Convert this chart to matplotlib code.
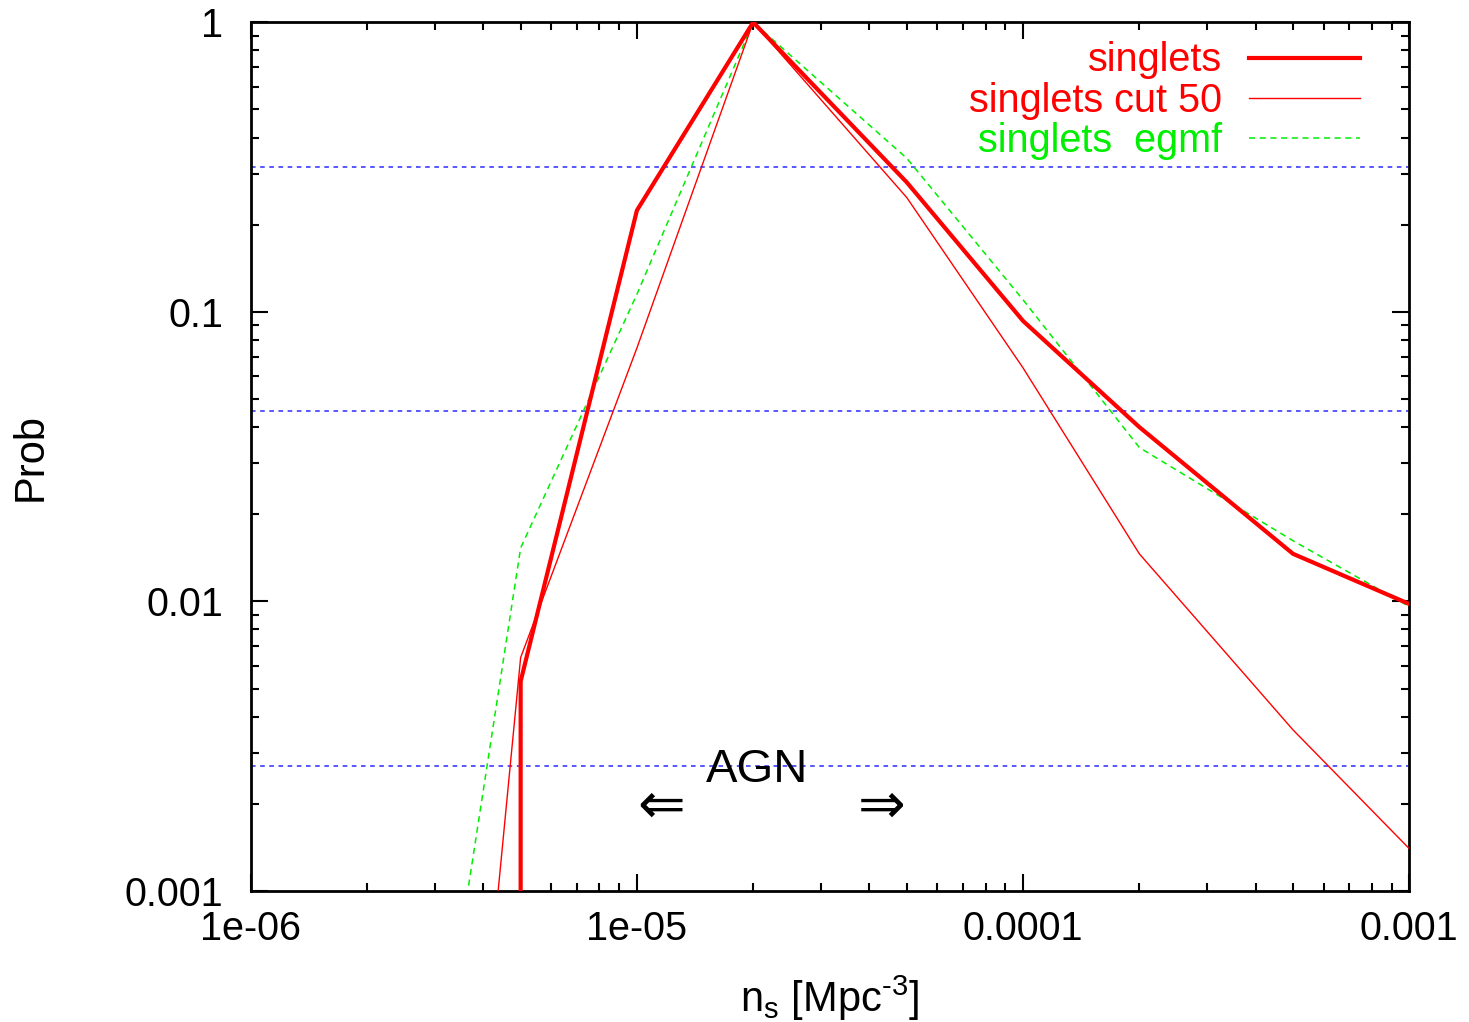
#!/usr/bin/env python
"""
singlets probability vs source density, gnuplot-like log-log plot
"""

import numpy as np
import matplotlib as mpl
mpl.use('Agg')
import matplotlib.pyplot as plt
from matplotlib.ticker import LogLocator, NullFormatter, FixedLocator, FixedFormatter

plt.rcParams['font.family'] = ['Liberation Sans', 'DejaVu Sans']
plt.rcParams['mathtext.fontset'] = 'custom'
plt.rcParams['mathtext.rm'] = 'Liberation Sans'

# source density n_s [Mpc^-3]
ns_singlets = [5.0e-6, 5.0e-6, 1.0e-5, 2.0e-5, 5.0e-5, 1.0e-4, 2.0e-4, 5.0e-4, 1.0e-3]
prob_singlets = [1.0e-6, 0.0053, 0.224, 1.0, 0.28, 0.093, 0.040, 0.0146, 0.0098]

ns_cut50 = [2.0e-6, 5.0e-6, 1.0e-5, 2.0e-5, 5.0e-5, 1.0e-4, 2.0e-4, 5.0e-4, 1.0e-3]
prob_cut50 = [2.0e-8, 0.0064, 0.075, 1.0, 0.248, 0.064, 0.0146, 0.0036, 0.0014]

ns_egmf = [2.0e-6, 5.0e-6, 1.0e-5, 2.0e-5, 5.0e-5, 1.0e-4, 2.0e-4, 5.0e-4, 1.0e-3]
prob_egmf = [5.5e-6, 0.0153, 0.115, 1.0, 0.339, 0.110, 0.034, 0.0162, 0.0096]

# 1, 2, 3 sigma levels
sigma_levels = [0.3173, 0.0455, 0.0027]

xticks = [1e-6, 1e-5, 1e-4, 1e-3]
xticklabels = ['1e-06', '1e-05', '0.0001', '0.001']
yticks = [1e-3, 1e-2, 1e-1, 1]
yticklabels = ['0.001', '0.01', '0.1', '1']

fs = 28.5

fig = plt.figure(figsize=(14.69, 10.22), dpi=100)
ax = fig.add_axes([250.7/1469, 1 - 891/1022, (1409.3-250.7)/1469, (891-22.3)/1022])
ax.set_xscale('log')
ax.set_yscale('log')
ax.set_xlim(1e-6, 1e-3)
ax.set_ylim(1e-3, 1)

for lev in sigma_levels:
    ax.plot([1e-6, 0.00099], [lev, lev], color='#2a2aff', lw=1.1,
            dashes=(3, 3), zorder=1)

ax.plot(ns_singlets, prob_singlets, color='red', lw=3.0, label='singlets', zorder=3)
ax.plot(ns_cut50, prob_cut50, color='red', lw=1.0, label='singlets cut 50', zorder=3)
ax.plot(ns_egmf, prob_egmf, color='#00ee00', lw=1.1, dashes=(4, 3),
        label='singlets  egmf', zorder=2)

# legend drawn gnuplot style: right-aligned text, sample on the right
leg = ax.legend(loc='upper right', frameon=False, fontsize=fs, markerfirst=False,
                handlelength=2.8, handletextpad=0.68, labelspacing=0.06,
                borderaxespad=0.0, borderpad=0.0, bbox_to_anchor=(0.9575, 0.978))
for txt, col in zip(leg.get_texts(), ['red', 'red', '#00ee00']):
    txt.set_color(col)
    txt.set_ha('right')
leg._legend_box.align = 'right'

ax.text(2.05e-5, 0.00262, 'AGN', ha='center', va='center', fontsize=34)
ax.text(1.155e-5, 0.00195, '\u21d0', ha='center', va='center', fontsize=41,
        family=['DejaVu Sans'])
ax.text(4.29e-5, 0.00195, '\u21d2', ha='center', va='center', fontsize=41,
        family=['DejaVu Sans'])

ax.xaxis.set_major_locator(FixedLocator(xticks))
ax.xaxis.set_major_formatter(FixedFormatter(xticklabels))
ax.yaxis.set_major_locator(FixedLocator(yticks))
ax.yaxis.set_major_formatter(FixedFormatter(yticklabels))
ax.xaxis.set_minor_locator(LogLocator(base=10, subs=np.arange(2, 10)))
ax.yaxis.set_minor_locator(LogLocator(base=10, subs=np.arange(2, 10)))
ax.xaxis.set_minor_formatter(NullFormatter())
ax.yaxis.set_minor_formatter(NullFormatter())

ax.tick_params(which='both', direction='in', top=True, right=True, width=1.5,
               labelsize=fs)
ax.tick_params(which='major', length=12)
ax.tick_params(which='minor', length=6)
ax.tick_params(axis='x', which='major', pad=14)
ax.tick_params(axis='y', which='major', pad=20)
for sp in ax.spines.values():
    sp.set_linewidth(2.0)

ax.set_xlabel(r'n$_\mathregular{s}$ [Mpc$^{\text{-3}}$]', fontsize=30, labelpad=18)
ax.set_ylabel('Prob', fontsize=30, labelpad=53)

plt.savefig('out.png', dpi=100)
plt.close()
